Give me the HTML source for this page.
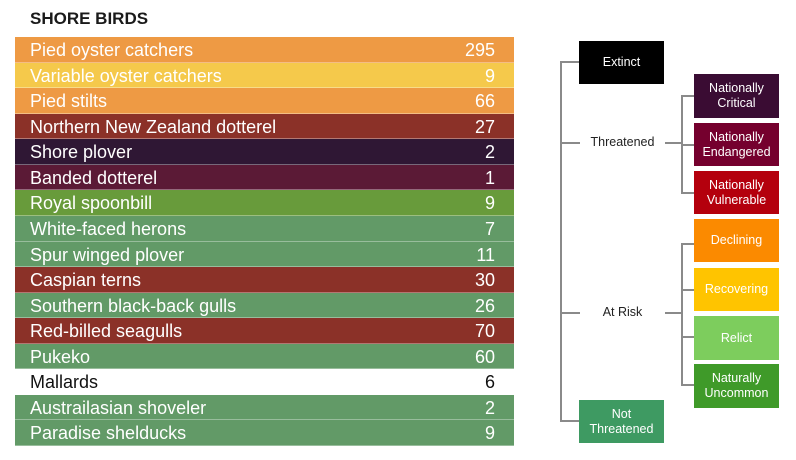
<!DOCTYPE html>
<html><head><meta charset="utf-8"><style>
html,body{margin:0;padding:0;background:#fff;width:796px;height:460px;overflow:hidden;font-family:"Liberation Sans",Arial,sans-serif;position:relative}
#title{position:absolute;left:30px;top:9px;font-weight:bold;font-size:17px;color:#1a1a1a}
.row{position:absolute;left:15px;width:499px;height:25px;border-bottom:1px solid rgba(255,255,255,0.35);box-sizing:border-box;font-size:18px;color:#fff}
.row .n{position:absolute;left:15px;top:3px;white-space:nowrap}
.row .v{position:absolute;right:19px;top:3px}
.box{position:absolute;color:#fff;font-size:12.5px;display:flex;align-items:center;justify-content:center;text-align:center;line-height:15px}
.ln{position:absolute;background:#8a8a8a}
.lbl{position:absolute;font-size:12.5px;color:#222}
</style></head><body>
<div id="title">SHORE BIRDS</div>
<div id="table"></div>

<div>
<div class="ln" style="left:560px;top:62px;width:2px;height:359px"></div>
<div class="ln" style="left:560px;top:61px;width:20px;height:2px"></div>
<div class="ln" style="left:560px;top:420px;width:20px;height:2px"></div>
<div class="ln" style="left:560px;top:142px;width:20px;height:2px"></div>
<div class="ln" style="left:560px;top:312px;width:20px;height:2px"></div>
<div class="ln" style="left:665px;top:142px;width:17px;height:2px"></div>
<div class="ln" style="left:665px;top:312px;width:17px;height:2px"></div>
<div class="ln" style="left:681px;top:95px;width:2px;height:99px"></div>
<div class="ln" style="left:681px;top:243px;width:2px;height:142px"></div>
<div class="ln" style="left:681px;top:95px;width:13px;height:2px"></div>
<div class="ln" style="left:681px;top:144px;width:13px;height:2px"></div>
<div class="ln" style="left:681px;top:192px;width:13px;height:2px"></div>
<div class="ln" style="left:681px;top:243px;width:13px;height:2px"></div>
<div class="ln" style="left:681px;top:289px;width:13px;height:2px"></div>
<div class="ln" style="left:681px;top:336px;width:13px;height:2px"></div>
<div class="ln" style="left:681px;top:384px;width:13px;height:2px"></div>
<div class="lbl" style="left:580px;top:135px;width:85px;text-align:center;background:#fff">Threatened</div>
<div class="lbl" style="left:580px;top:305px;width:85px;text-align:center;background:#fff">At Risk</div>
<div class="box" style="left:579px;top:41px;width:85px;height:43px;background:#000">Extinct</div>
<div class="box" style="left:579px;top:400px;width:85px;height:43px;background:#3e9a62">Not<br>Threatened</div>
<div class="box" style="left:694px;top:74px;width:85px;height:44px;background:#3a0c33">Nationally<br>Critical</div>
<div class="box" style="left:694px;top:123px;width:85px;height:43px;background:#75002e">Nationally<br>Endangered</div>
<div class="box" style="left:694px;top:171px;width:85px;height:43px;background:#b4000d">Nationally<br>Vulnerable</div>
<div class="box" style="left:694px;top:219px;width:85px;height:43px;background:#fb8a00">Declining</div>
<div class="box" style="left:694px;top:268px;width:85px;height:43px;background:#ffc400">Recovering</div>
<div class="box" style="left:694px;top:316px;width:85px;height:44px;background:#7dcd5d">Relict</div>
<div class="box" style="left:694px;top:364px;width:85px;height:44px;background:#3f9a29">Naturally<br>Uncommon</div>
</div>

<script>
const birds = ["Pied oyster catchers","Variable oyster catchers","Pied stilts","Northern New Zealand dotterel","Shore plover","Banded dotterel","Royal spoonbill","White-faced herons","Spur winged plover","Caspian terns","Southern black-back gulls","Red-billed seagulls","Pukeko","Mallards","Austrailasian shoveler","Paradise shelducks"];
const counts = [295,9,66,27,2,1,9,7,11,30,26,70,60,6,2,9];
const statuses = ["declining","recovering","declining","vulnerable","critical","endangered","uncommon","not","not","vulnerable","not","vulnerable","not","introduced","not","not"];
const statusColors = {declining:"#ee9a44",recovering:"#f5c94b",vulnerable:"#8b3128",critical:"#2f1734",endangered:"#5b1a36",uncommon:"#689b3b",not:"#629a67",introduced:"#ffffff"};
const table = document.getElementById('table');
const top0 = 37, rowH = (446 - 37) / birds.length;
birds.forEach((b, i) => {
  const r = document.createElement('div');
  r.className = 'row';
  
  
  r.style.top = (top0 + i * rowH) + 'px';
  r.style.height = rowH + 'px';
  const c = statusColors[statuses[i]];
  r.style.background = c;
  if (c === '#ffffff') r.style.color = '#111';
  const n = document.createElement('span');
  n.className = 'n';
  
  
  n.textContent = b;
  const v = document.createElement('span');
  v.className = 'v';
  
  
  v.textContent = counts[i];
  r.appendChild(n); r.appendChild(v);
  table.appendChild(r);
});
</script>
</body></html>
